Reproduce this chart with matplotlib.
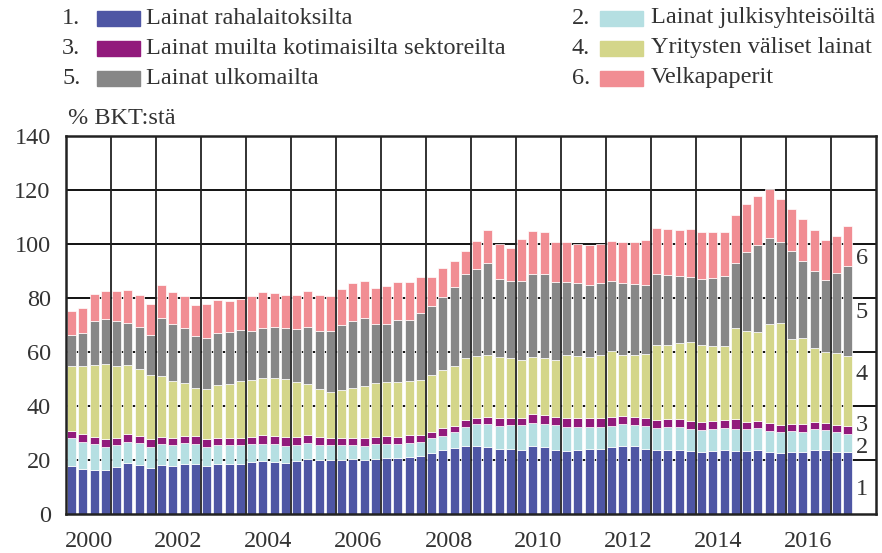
import numpy as np
import matplotlib
matplotlib.use('Agg')
import matplotlib.pyplot as plt
from matplotlib.patches import Rectangle

plt.rcParams['font.family'] = ['Liberation Serif', 'DejaVu Serif']

# neljännesvuosittain 2000Q1 - 2017Q2, % BKT:stä
start_year = 2000
raha = [17.9, 16.7, 16.4, 16.4, 17.3, 18.8, 18.3, 17.2, 18.3, 17.9, 18.6, 18.4,
        17.8, 18.6, 18.5, 18.6, 19.1, 19.5, 19.1, 19.0, 19.5, 20.4, 19.9, 20.0,
        20.0, 20.2, 20.0, 20.4, 20.7, 20.7, 21.1, 21.5, 22.7, 23.7, 24.4, 25.3,
        25.2, 24.9, 24.2, 24.0, 23.7, 25.2, 24.7, 23.7, 23.5, 23.7, 24.1, 24.2,
        24.7, 25.1, 25.3, 24.2, 23.6, 23.7, 23.8, 23.5, 23.0, 23.3, 23.8, 23.5,
        23.3, 23.8, 23.1, 22.5, 23.0, 23.0, 23.8, 23.6, 23.0, 23.0]
julkis = [10.1, 9.9, 9.5, 8.6, 8.1, 8.0, 8.0, 7.7, 7.8, 7.7, 7.8, 7.5,
          7.2, 6.9, 6.9, 6.8, 6.9, 6.5, 6.7, 6.3, 6.0, 5.9, 5.7, 5.6,
          5.6, 5.3, 5.3, 5.6, 5.4, 5.3, 5.3, 5.3, 5.6, 5.3, 5.8, 7.0,
          8.1, 8.6, 8.5, 8.8, 9.1, 8.5, 8.5, 9.1, 8.9, 8.6, 8.3, 8.0,
          8.0, 8.1, 7.7, 8.3, 8.1, 8.5, 8.5, 7.9, 8.0, 8.0, 7.9, 8.1,
          8.0, 8.0, 7.8, 7.8, 7.7, 7.5, 7.5, 7.4, 7.2, 6.8]
muut = [2.8, 3.0, 2.8, 2.8, 2.8, 2.8, 2.6, 2.7, 2.6, 2.7, 2.5, 3.0,
        2.7, 2.8, 2.8, 2.8, 2.6, 3.2, 3.1, 3.1, 3.0, 2.8, 2.8, 2.6,
        2.7, 2.8, 2.7, 2.7, 2.7, 2.7, 2.7, 2.5, 2.2, 2.7, 2.3, 2.5,
        2.3, 2.6, 2.7, 2.8, 2.7, 3.2, 3.3, 3.2, 3.2, 3.2, 3.2, 3.2,
        3.1, 3.0, 3.1, 3.1, 3.1, 3.1, 3.0, 3.1, 3.2, 3.2, 3.3, 3.5,
        2.7, 2.8, 2.8, 2.7, 2.8, 2.8, 2.8, 2.6, 2.8, 2.7]
yritys = [24.2, 25.3, 26.5, 27.8, 26.7, 25.6, 24.7, 23.8, 22.3, 20.9, 19.5, 17.8,
          18.6, 19.5, 20.1, 20.9, 21.0, 21.2, 21.4, 21.6, 20.5, 19.1, 17.9, 16.9,
          17.7, 18.4, 19.3, 19.9, 20.1, 20.2, 20.2, 20.4, 21.0, 21.5, 22.2, 23.0,
          22.8, 22.7, 22.6, 22.2, 21.6, 21.4, 21.1, 21.0, 23.3, 23.0, 22.6, 23.5,
          24.6, 22.7, 22.8, 23.8, 27.8, 27.2, 27.9, 29.1, 28.4, 27.9, 27.2, 33.7,
          33.8, 32.7, 36.8, 37.8, 31.2, 32.0, 27.5, 26.5, 26.5, 26.2]
ulkom = [11.2, 12.0, 16.3, 16.7, 16.7, 15.7, 15.6, 14.8, 21.5, 21.0, 20.4, 19.4,
         19.0, 19.3, 19.1, 19.1, 18.3, 18.5, 19.1, 19.0, 19.6, 21.1, 21.6, 22.5,
         24.1, 24.6, 25.3, 21.6, 21.4, 22.8, 22.5, 24.7, 25.6, 27.3, 29.3, 31.2,
         32.3, 34.1, 29.0, 28.6, 29.3, 30.7, 31.2, 29.0, 27.2, 27.0, 26.8, 26.7,
         26.0, 26.8, 26.4, 25.4, 26.4, 26.2, 24.8, 24.0, 24.4, 25.1, 26.0, 24.0,
         29.3, 32.5, 31.9, 30.1, 32.8, 28.5, 28.5, 26.7, 29.8, 33.0]
velka = [8.9, 9.5, 9.9, 10.2, 10.9, 12.1, 11.9, 11.5, 12.2, 12.1, 12.0, 11.2,
         12.3, 12.2, 11.5, 11.5, 13.0, 13.5, 12.5, 12.0, 12.5, 13.2, 13.3, 13.2,
         13.3, 14.2, 13.8, 13.6, 14.1, 14.2, 14.2, 13.2, 10.5, 10.6, 9.6, 8.4,
         10.4, 12.3, 13.0, 12.3, 15.4, 15.7, 15.6, 14.8, 14.6, 14.4, 14.8, 14.4,
         14.7, 15.1, 15.3, 16.5, 16.9, 17.0, 17.3, 17.9, 17.4, 16.8, 16.2, 17.8,
         17.9, 17.8, 17.9, 15.7, 15.3, 15.3, 15.1, 14.7, 13.7, 14.8]

labels = ['Lainat rahalaitoksilta', 'Lainat julkisyhteisöiltä',
          'Lainat muilta kotimaisilta sektoreilta', 'Yritysten väliset lainat',
          'Lainat ulkomailta', 'Velkapaperit']
colors = ['#4E56A4', '#B5DFE2', '#921A7C', '#D4D68A', '#878787', '#F18D93']
series = [raha, julkis, muut, yritys, ulkom, velka]

txt = '#333333'
fs = 17.5

fig = plt.figure(figsize=(8.82, 5.53), dpi=100)
ax = fig.add_axes([66 / 882, 1 - 514 / 553, 810 / 882, 378 / 553])

x = start_year + (np.arange(len(raha)) + 0.5) / 4
bottom = np.zeros(len(raha))
for vals, col in zip(series, colors):
    ax.bar(x, vals, width=0.2, bottom=bottom, color=col,
           edgecolor='white', linewidth=0.5, zorder=2)
    bottom += np.array(vals)

ax.set_xlim(2000, 2018)
ax.set_ylim(0, 140)
ax.set_yticks(range(0, 141, 20))
ax.set_xticks([y + 0.5 for y in range(2000, 2017, 2)])
ax.set_xticklabels([str(y) for y in range(2000, 2017, 2)])
ax.tick_params(length=0, labelsize=fs, colors=txt, pad=11)
ax.tick_params(axis='x', pad=12)

for yv in range(20, 140, 20):
    ax.axhline(yv, color='#111111', lw=1.4, zorder=1)
for yr in range(2001, 2018):
    ax.axvline(yr, color='#222222', lw=1.3, zorder=3)
for s in ax.spines.values():
    s.set_linewidth(1.8)
    s.set_color('#222222')

# sarjojen numerot oikealla
for num, yv in zip(range(1, 7), [8.9, 24.6, 32.8, 51.5, 74.8, 94.8]):
    ax.text(2017.55, yv, str(num), fontsize=fs, color=txt, va='center', ha='left')

fig.text(68 / 882, 1 - 118 / 553, '% BKT:stä', fontsize=fs, color=txt,
         va='center', ha='left')

# selite
cols_x = [(62, 97, 146), (572, 600, 651)]
rows_y = [18, 48, 78]
for i, (lab, col) in enumerate(zip(labels, colors)):
    nx, px, tx = cols_x[i % 2]
    yc = rows_y[i // 2]
    fig.text(nx / 882, 1 - yc / 553, f'{i + 1}.', fontsize=fs, color=txt,
             va='center', ha='left')
    fig.patches.append(Rectangle((px / 882, 1 - (yc + 7.5) / 553), 43 / 882, 15 / 553,
                                 transform=fig.transFigure, color=col))
    fig.text(tx / 882, 1 - yc / 553, lab, fontsize=fs, color=txt,
             va='center', ha='left')

fig.savefig('out.png', dpi=100)
